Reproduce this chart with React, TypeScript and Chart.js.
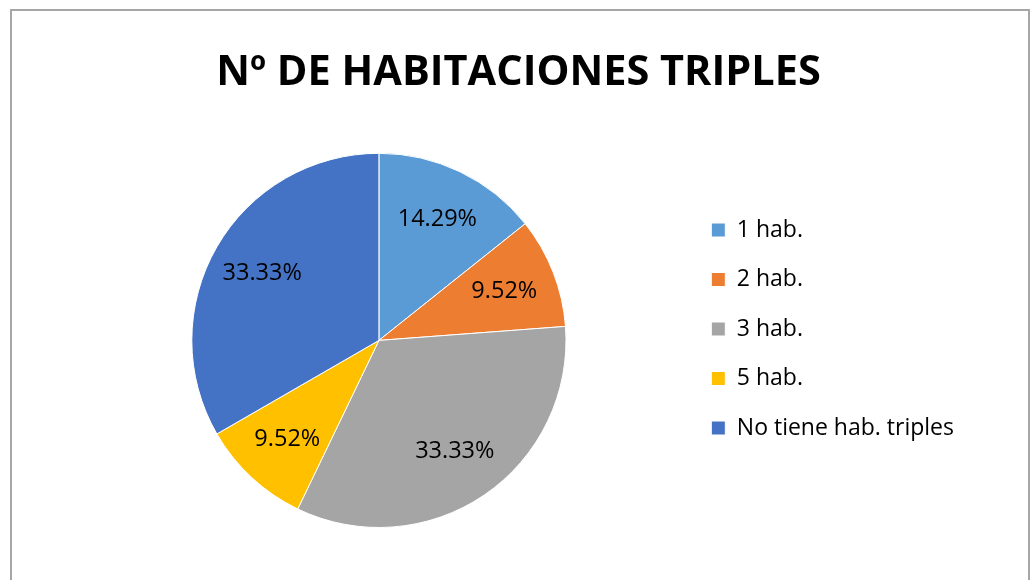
import React, { useEffect, useRef } from "react";
import { Chart, registerables } from "chart.js";

Chart.register(...registerables);

const TITLE = "Nº DE HABITACIONES TRIPLES";
const categories = ["1 hab.", "2 hab.", "3 hab.", "5 hab.", "No tiene hab. triples"];
const counts = [3, 2, 7, 2, 7];
const colors = ["#5B9BD5", "#ED7D31", "#A5A5A5", "#FFC000", "#4472C4"];

const sliceLabels = {
  id: "sliceLabels",
  afterDatasetsDraw(chart: any) {
    const ctx = chart.ctx;
    const meta = chart.getDatasetMeta(0);
    const data = chart.data.datasets[0].data as number[];
    const total = data.reduce((a, b) => a + b, 0);
    ctx.save();
    ctx.font = "23.5px 'Open Sans', sans-serif";
    ctx.fillStyle = "#000";
    ctx.textAlign = "center";
    ctx.textBaseline = "middle";
    meta.data.forEach((arc: any, i: number) => {
      const p = arc.getProps(["x", "y", "startAngle", "endAngle", "outerRadius"], true);
      const mid = (p.startAngle + p.endAngle) / 2;
      const r = p.outerRadius * 0.72;
      const tx = p.x + Math.cos(mid) * r;
      const ty = p.y + Math.sin(mid) * r;
      ctx.fillText(((data[i] / total) * 100).toFixed(2) + "%", tx, ty);
    });
    ctx.restore();
  },
};

export default function App() {
  const ref = useRef<HTMLCanvasElement>(null);
  useEffect(() => {
    if (!ref.current) return;
    const chart = new Chart(ref.current, {
      type: "pie",
      data: {
        labels: categories,
        datasets: [
          {
            data: counts,
            backgroundColor: colors,
            borderColor: "#ffffff",
            borderWidth: 1,
          },
        ],
      },
      options: {
        animation: false,
        responsive: false,
        devicePixelRatio: 1,
        layout: { padding: { left: 72, right: 72, top: 130, bottom: 52 } },
        plugins: {
          tooltip: { enabled: false },
          title: {
            display: true,
            text: TITLE,
            color: "#000",
            font: { family: "'Open Sans', sans-serif", size: 41.5, weight: "bold" },
            padding: { top: -82, bottom: 55 },
          },
          legend: {
            position: "right",
            align: "center",
            fullSize: true,
            labels: {
              boxWidth: 14,
              boxHeight: 14,
              padding: 26.5,
              color: "#000",
              font: { family: "'Open Sans', sans-serif", size: 23 },
            },
          },
        },
      },
      plugins: [sliceLabels],
    });
    return () => chart.destroy();
  }, []);
  return (
    <div style={{ position: "absolute", left: 0, top: 0, width: 1035, height: 580, overflow: "hidden", background: "#fff" }}>
      <div
        style={{
          position: "absolute",
          left: 10,
          top: 9,
          width: 1016,
          height: 620,
          border: "2px solid #a6a6a6",
        }}
      />
      <canvas ref={ref} width={1035} height={580} style={{ position: "absolute", left: 1, top: 0 }} />
    </div>
  );
}
